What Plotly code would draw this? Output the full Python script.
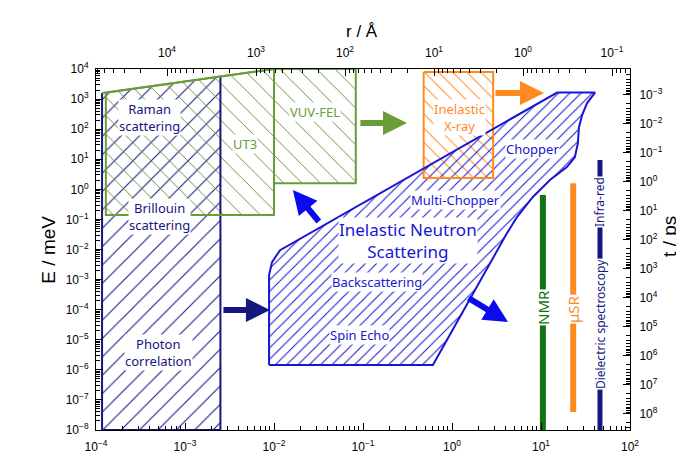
import numpy as np
import plotly.graph_objects as go

# ---------------- data (Q in 1/Å on bottom axis, E in meV on left axis) ----------------
q_range_log = [-4, 2]
e_range_log = [-8, 4]
r_range_log = [4.798, -1.202]      # r = 2*pi/Q  (top axis, reversed)
t_range_log = [8.57, -3.88]        # time axis (right, reversed)

q_tickvals = [1e-4, 1e-3, 1e-2, 1e-1, 1e0, 1e1, 1e2]
q_ticktext = ["10<sup>−4</sup>", "10<sup>−3</sup>", "10<sup>−2</sup>", "10<sup>−1</sup>",
              "10<sup>0</sup>", "10<sup>1</sup>", "10<sup>2</sup>"]
e_tickvals = [1e-8, 1e-7, 1e-6, 1e-5, 1e-4, 1e-3, 1e-2, 1e-1, 1e0, 1e1, 1e2, 1e3, 1e4]
e_ticktext = ["10<sup>−8</sup>", "10<sup>−7</sup>", "10<sup>−6</sup>", "10<sup>−5</sup>",
              "10<sup>−4</sup>", "10<sup>−3</sup>", "10<sup>−2</sup>", "10<sup>−1</sup>",
              "10<sup>0</sup>", "10<sup>1</sup>", "10<sup>2</sup>", "10<sup>3</sup>", "10<sup>4</sup>"]
r_tickvals = [1e4, 1e3, 1e2, 1e1, 1e0, 1e-1]
r_ticktext = ["10<sup>4</sup>", "10<sup>3</sup>", "10<sup>2</sup>", "10<sup>1</sup>",
              "10<sup>0</sup>", "10<sup>−1</sup>"]
t_tickvals = [1e-3, 1e-2, 1e-1, 1e0, 1e1, 1e2, 1e3, 1e4, 1e5, 1e6, 1e7, 1e8]
t_ticktext = ["10<sup>−3</sup>", "10<sup>−2</sup>", "10<sup>−1</sup>", "10<sup>0</sup>",
              "10<sup>1</sup>", "10<sup>2</sup>", "10<sup>3</sup>", "10<sup>4</sup>",
              "10<sup>5</sup>", "10<sup>6</sup>", "10<sup>7</sup>", "10<sup>8</sup>"]

# Photon correlation (navy)
pc_q = [1.17e-4, 1.17e-4, 2.5e-3, 2.5e-3]
pc_e = [1e-8, 1.6e3, 5.6e3, 1e-8]
pc_edge_q = [1.17e-4, 1.17e-4, 2.5e-3, 2.5e-3]
pc_edge_e = [1.6e3, 1e-8, 1e-8, 5.6e3]

# Raman / Brillouin / UT3 (green)
raman_q = [1.29e-4, 1e-2, 1e-2, 1.29e-4, 1.29e-4]
raman_e = [1.63e3, 1e4, 0.14, 0.14, 1.63e3]
slope_q = [1.17e-4, 1e-2]
slope_e = [1.6e3, 1e4]

# VUV-FEL (green)
vuv_q = [1e-2, 0.083, 0.083, 1e-2, 1e-2]
vuv_e = [1e4, 1e4, 1.6, 1.6, 1e4]

# Inelastic X-ray (orange)
ixs_q = [0.48, 2.9, 2.9, 0.48, 0.48]
ixs_e = [8e3, 8e3, 2.4, 2.4, 8e3]

# Inelastic Neutron Scattering (blue)
ins_q = [8.8e-3, 0.61, 4.15, 5.37, 8.1, 12.6, 19.5, 24, 26, 26.7, 29, 32.9, 40.5,
         15.2, 0.0117, 9.5e-3, 8.8e-3, 8.8e-3]
ins_e = [1.45e-6, 1.45e-6, 0.035, 0.12, 0.556, 2.04, 5.5, 11.7, 35, 117, 295, 740, 1650,
         1650, 9.5e-3, 3.8e-3, 1.4e-3, 1.45e-6]

# Vertical technique bars
nmr_q = [10.5, 10.5]
nmr_e = [1e-8, 0.65]
musr_q = [23, 23]
musr_e = [4e-8, 1.6]
diel_q = [46, 46]
diel_e = [1e-8, 9.4]

# Arrows (tail -> tip)
arrow_tail_q = [0.090, 2.96, 2.6e-3, 0.0329, 1.476]
arrow_tail_e = [160, 1585, 9.8e-5, 0.076, 2.6e-4]
arrow_tip_q = [0.312, 10.8, 9.0e-3, 0.0163, 4.26]
arrow_tip_e = [160, 1585, 9.8e-5, 0.955, 3.9e-5]

# colours
NAVY = "#16167f"
BLUE = "#1616d4"
ARROW_BLUE = "#0b0bf0"
GREEN = "#6a9c3a"
GREEN_HATCH = "#5f8a30"
ORANGE = "#ff8a1f"
NMR_GREEN = "#127312"
arrow_colors = [GREEN, ORANGE, NAVY, ARROW_BLUE, ARROW_BLUE]

LABEL_FONT = "Comic Sans MS, Noto Sans, DejaVu Sans, sans-serif"
AX_FONT = "Liberation Sans, Arial, sans-serif"

fig = go.Figure()

def hatch(q, e, shape, color, size, solidity=0.1):
    fig.add_trace(go.Scatter(
        x=q, y=e, mode="none", fill="toself", fillcolor="rgba(0,0,0,0)",
        fillpattern=dict(shape=shape, fgcolor=color, bgcolor="rgba(0,0,0,0)",
                         fgopacity=1, size=size, solidity=solidity),
        hoverinfo="skip"))

def line(q, e, color, width):
    fig.add_trace(go.Scatter(x=q, y=e, mode="lines", line=dict(color=color, width=width),
                             hoverinfo="skip"))

# hatched regions
hatch(pc_q, pc_e, "/", NAVY, 13, 0.08)
hatch(raman_q, raman_e, "\\", GREEN_HATCH, 13, 0.07)
hatch(vuv_q, vuv_e, "\\", GREEN_HATCH, 13, 0.07)
hatch(ixs_q, ixs_e, "\\", ORANGE, 10, 0.1)
hatch(ins_q, ins_e, "/", BLUE, 8, 0.13)

# outlines
line(pc_edge_q, pc_edge_e, NAVY, 2)
line(raman_q, raman_e, GREEN, 2)
line(slope_q, slope_e, GREEN, 2)
line(vuv_q, vuv_e, GREEN, 2)
line(ixs_q, ixs_e, ORANGE, 2)
line(ins_q, ins_e, BLUE, 2)

# vertical bars
line(nmr_q, nmr_e, NMR_GREEN, 6)
line(musr_q, musr_e, ORANGE, 6)
line(diel_q, diel_e, NAVY, 5)

# dummy trace to activate secondary axes
fig.add_trace(go.Scatter(x=[1], y=[1], xaxis="x2", yaxis="y2", mode="markers",
                         marker=dict(opacity=0), hoverinfo="skip"))

annotations = []
# arrows
for tq, te, hq, he, c in zip(arrow_tail_q, arrow_tail_e, arrow_tip_q, arrow_tip_e, arrow_colors):
    annotations.append(dict(
        x=np.log10(hq), y=np.log10(he), ax=np.log10(tq), ay=np.log10(te),
        xref="x", yref="y", axref="x", ayref="y", text="", showarrow=True,
        arrowhead=2, arrowsize=0.8, arrowwidth=6, arrowcolor=c, standoff=0))

# labels: (text, Q, E, color, size, angle)
labels = [
    ("Raman<br>scattering", 10**-3.404, 10**2.404, NAVY, 13, 0),
    ("Brillouin<br>scattering", 10**-3.281, 10**-0.887, NAVY, 13, 0),
    ("Photon<br>correlation", 10**-3.303, 10**-5.408, NAVY, 13, 0),
    ("UT3", 10**-2.326, 10**1.507, GREEN, 13, 0),
    ("VUV-FEL", 10**-1.539, 10**2.57, GREEN, 13, 0),
    ("Inelastic<br>X-ray", 10**0.079, 10**2.404, ORANGE, 13, 0),
    ("Chopper", 10**0.899, 10**1.34, BLUE, 13, 0),
    ("Multi-Chopper", 10**0.034, 10**-0.355, BLUE, 13, 0),
    ("Inelastic Neutron<br>Scattering", 10**-0.494, 10**-1.685, BLUE, 17, 0),
    ("Backscattering", 10**-0.843, 10**-3.08, BLUE, 13, 0),
    ("Spin Echo", 10**-1.034, 10**-4.84, BLUE, 13, 0),
    ("NMR", 10**1.022, 10**-3.91, NMR_GREEN, 15, -90),
    ("μSR", 10**1.36, 10**-3.98, ORANGE, 15, -90),
    ("Dielectric spectroscopy", 10**1.663, 10**-4.48, NAVY, 12, -90),
    ("Infra-red", 10**1.663, 10**-0.42, NAVY, 12, -90),
]
for txt, q, e, c, s, ang in labels:
    annotations.append(dict(
        x=np.log10(q), y=np.log10(e), xref="x", yref="y", text=txt, showarrow=False,
        font=dict(family=LABEL_FONT, size=s, color=c), bgcolor="white", borderpad=0,
        textangle=ang))

# axis titles
annotations += [
    dict(text="E / meV", x=-0.114, y=0.4986, xref="paper", yref="paper", showarrow=False,
         textangle=-90, font=dict(family=AX_FONT, size=19, color="black")),
    dict(text="r / Å", x=0.498, y=1.136, xref="paper", yref="paper", showarrow=False,
         font=dict(family=AX_FONT, size=17, color="black")),
    dict(text="t / ps", x=1.096, y=0.537, xref="paper", yref="paper", showarrow=False,
         textangle=-90, font=dict(family=AX_FONT, size=19, color="black")),
]

tickfont = dict(family=AX_FONT, size=12, color="black")
common = dict(type="log", showgrid=False, zeroline=False, showline=True, linecolor="black",
              linewidth=1, ticks="inside", ticklen=7, tickcolor="black", tickfont=tickfont,
              tickmode="array",
              minor=dict(ticks="inside", ticklen=4, dtick="D1", tickcolor="black", showgrid=False))

fig.update_layout(
    width=676, height=458,
    margin=dict(l=88, r=54, t=61, b=36),
    plot_bgcolor="white", paper_bgcolor="white", showlegend=False,
    xaxis=dict(range=q_range_log, tickvals=q_tickvals, ticktext=q_ticktext,
               ticklabelstandoff=6, **common),
    xaxis2=dict(range=r_range_log, tickvals=r_tickvals, ticktext=r_ticktext,
                overlaying="x", side="top", anchor="y", ticklabelstandoff=6, **common),
    yaxis=dict(range=e_range_log, tickvals=e_tickvals, ticktext=e_ticktext,
               ticklabelstandoff=4, **common),
    yaxis2=dict(range=t_range_log, tickvals=t_tickvals, ticktext=t_ticktext,
                overlaying="y", side="right", anchor="x", ticklabelstandoff=6, **common),
    annotations=annotations,
)

fig.write_html("out.html")
